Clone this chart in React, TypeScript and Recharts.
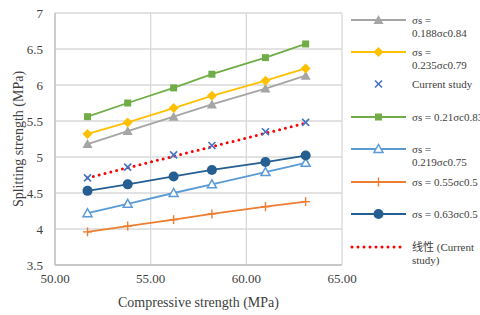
import { LineChart, Line, XAxis, YAxis, CartesianGrid, Label } from "recharts";

const strength = [51.7, 53.8, 56.2, 58.2, 61.0, 63.1];
const eq0188 = [5.18, 5.36, 5.56, 5.73, 5.95, 6.13];
const eq0235 = [5.32, 5.48, 5.68, 5.85, 6.06, 6.23];
const currentStudy = [4.71, 4.86, 5.03, 5.16, 5.35, 5.48];
const eq021 = [5.56, 5.75, 5.96, 6.15, 6.38, 6.57];
const eq0219 = [4.22, 4.35, 4.5, 4.62, 4.79, 4.92];
const eq055 = [3.96, 4.04, 4.13, 4.21, 4.31, 4.38];
const eq063 = [4.53, 4.62, 4.73, 4.82, 4.93, 5.02];
const trendX = [51.7, 63.1];
const trendY = [4.71, 5.47];
const xTicks = [50, 55, 60, 65];
const yTicks = [3.5, 4, 4.5, 5, 5.5, 6, 6.5, 7];

const FONT = "Liberation Serif, 'Noto Sans CJK SC', serif";

const data = strength.map((x, i) => ({
  x,
  a: eq0188[i],
  b: eq0235[i],
  cur: currentStudy[i],
  c: eq021[i],
  d: eq0219[i],
  e: eq055[i],
  f: eq063[i],
}));
const trendData = trendX.map((x, i) => ({ x, trend: trendY[i] }));

type Shape = "tri" | "diamond" | "x" | "square" | "openTri" | "plus" | "circle" | "dots";

function marker(shape: Shape, color: string, cx: number, cy: number, key?: string) {
  switch (shape) {
    case "tri":
      return <polygon key={key} points={`${cx},${cy - 5} ${cx - 5},${cy + 4} ${cx + 5},${cy + 4}`} fill={color} />;
    case "openTri":
      return (
        <polygon key={key} points={`${cx},${cy - 4.5} ${cx - 4.5},${cy + 3.5} ${cx + 4.5},${cy + 3.5}`}
          fill="#fff" stroke={color} strokeWidth={1.5} />
      );
    case "diamond":
      return <polygon key={key} points={`${cx},${cy - 5} ${cx + 5},${cy} ${cx},${cy + 5} ${cx - 5},${cy}`} fill={color} />;
    case "square":
      return <rect key={key} x={cx - 3.5} y={cy - 3.5} width={7} height={7} fill={color} />;
    case "x":
      return (
        <g key={key} stroke={color} strokeWidth={1.6}>
          <line x1={cx - 3.5} y1={cy - 3.5} x2={cx + 3.5} y2={cy + 3.5} />
          <line x1={cx - 3.5} y1={cy + 3.5} x2={cx + 3.5} y2={cy - 3.5} />
        </g>
      );
    case "plus":
      return (
        <g key={key} stroke={color} strokeWidth={1.4}>
          <line x1={cx - 4.5} y1={cy} x2={cx + 4.5} y2={cy} />
          <line x1={cx} y1={cy - 4.5} x2={cx} y2={cy + 4.5} />
        </g>
      );
    case "circle":
      return <circle key={key} cx={cx} cy={cy} r={5} fill={color} />;
    default:
      return <g key={key} />;
  }
}

const series: { key: string; label: string[]; color: string; shape: Shape; line: boolean }[] = [
  { key: "a", label: ["σs =", "0.188σc0.84"], color: "#A5A5A5", shape: "tri", line: true },
  { key: "b", label: ["σs =", "0.235σc0.79"], color: "#FFC000", shape: "diamond", line: true },
  { key: "cur", label: ["Current study"], color: "#4472C4", shape: "x", line: false },
  { key: "c", label: ["σs = 0.21σc0.83"], color: "#70AD47", shape: "square", line: true },
  { key: "d", label: ["σs =", "0.219σc0.75"], color: "#5B9BD5", shape: "openTri", line: true },
  { key: "e", label: ["σs = 0.55σc0.5"], color: "#ED7D31", shape: "plus", line: true },
  { key: "f", label: ["σs = 0.63σc0.5"], color: "#255E91", shape: "circle", line: true },
  { key: "trend", label: ["线性 (Current", "study)"], color: "#FF0000", shape: "dots", line: true },
];

const legendY = [20, 52, 84, 117, 149, 182, 214, 247];

function LegendBox() {
  return (
    <svg width={135} height={280} style={{ position: "absolute", left: 345, top: 0 }}>
      {series.map((s, i) => {
        const y = legendY[i];
        return (
          <g key={s.key}>
            {s.shape === "dots" ? (
              <line x1={7} x2={61} y1={y} y2={y} stroke={s.color} strokeWidth={3}
                strokeDasharray="0 6" strokeLinecap="round" />
            ) : (
              <>
                {s.line && <line x1={6} x2={61} y1={y} y2={y} stroke={s.color} strokeWidth={2} />}
                {marker(s.shape, s.color, 33.5, y)}
              </>
            )}
            <text x={67} y={y} fontFamily={FONT} fontSize={11} fill="#404040" dominantBaseline="central">
              {s.label.map((t, j) => (
                <tspan key={j} x={67} dy={j === 0 ? 0 : 13}>{t}</tspan>
              ))}
            </text>
          </g>
        );
      })}
    </svg>
  );
}

export default function App() {
  return (
    <div style={{ position: "absolute", left: 0, top: 0, width: 480, height: 315, background: "#fff" }}>
      <LineChart width={480} height={315} data={data} margin={{ top: 13, right: 138, bottom: 0, left: 0 }}>
        <CartesianGrid stroke="#D9D9D9" strokeWidth={1.3} />
        <XAxis dataKey="x" type="number" domain={[50, 65]} ticks={xTicks} tickFormatter={(v) => v.toFixed(2)}
          height={50} axisLine={{ stroke: "#BFBFBF", strokeWidth: 1.3 }} tickLine={false} tickSize={0} tickMargin={9}
          tick={{ fontSize: 13, fontFamily: FONT, fill: "#404040" }} interval={0}>
          <Label value="Compressive strength (MPa)" position="insideBottom" offset={8}
            style={{ fontSize: 14, fontFamily: FONT, fill: "#404040" }} />
        </XAxis>
        <YAxis type="number" domain={[3.5, 7]} ticks={yTicks} width={55}
          axisLine={{ stroke: "#BFBFBF", strokeWidth: 1.3 }} tickLine={false} tickSize={0} tickMargin={12}
          tick={{ fontSize: 13, fontFamily: FONT, fill: "#404040" }} interval={0}>
          <Label value="Splitting strength (MPa)" angle={-90} position="insideLeft" offset={18}
            style={{ fontSize: 14, fontFamily: FONT, fill: "#404040", textAnchor: "middle" }} />
        </YAxis>
        {series.filter((s) => s.key !== "cur" && s.key !== "trend").map((s) => (
          <Line key={s.key} dataKey={s.key} stroke={s.color} strokeWidth={1.8} isAnimationActive={false}
            dot={(p: any) => marker(s.shape, s.color, p.cx, p.cy, `${s.key}-${p.index}`)} activeDot={false} />
        ))}
        <Line data={trendData} dataKey="trend" stroke="#FF0000" strokeWidth={3} strokeDasharray="0 6"
          strokeLinecap="round" dot={false} activeDot={false} isAnimationActive={false} />
        <Line dataKey="cur" stroke="none" isAnimationActive={false} activeDot={false}
          dot={(p: any) => marker("x", "#4472C4", p.cx, p.cy, `cur-${p.index}`)} />
      </LineChart>
      <LegendBox />
    </div>
  );
}
